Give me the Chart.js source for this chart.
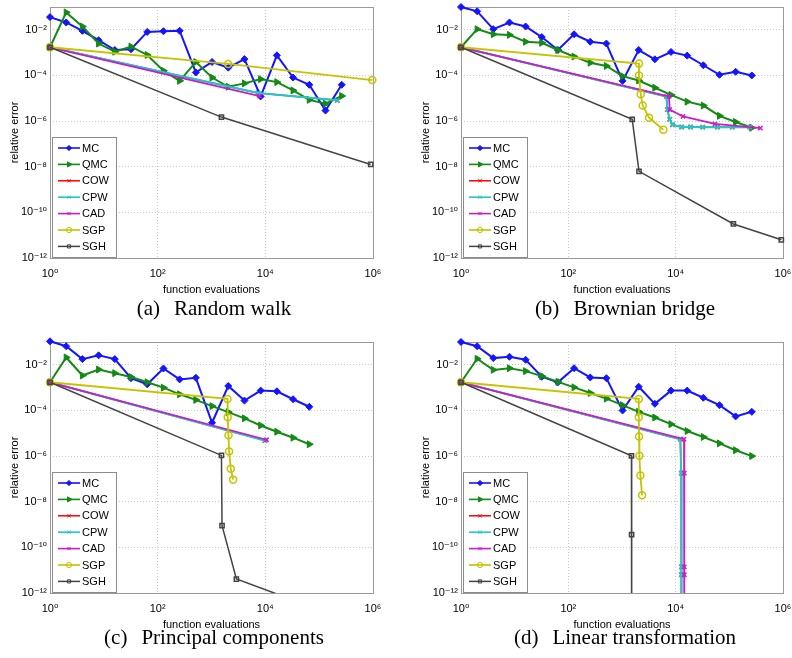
<!DOCTYPE html>
<html>
<head>
<meta charset="utf-8">
<script src="https://cdn.jsdelivr.net/npm/chart.js@4.4.1/dist/chart.umd.min.js"></script>
<style>
  html, body { margin: 0; padding: 0; background: #fff; }
  body { width: 792px; height: 658px; position: relative; overflow: hidden; }
  canvas { position: absolute; }
  .cap { position: absolute; width: 320px; text-align: center; font-family: 'Liberation Serif', 'Times New Roman', serif; font-size: 21px; line-height: 24px; color: #000; white-space: nowrap; }
  .cap .t { margin-left: 14px; }
</style>
</head>
<body>
<canvas id="ca" width="396" height="297" style="left:0px;top:0px"></canvas>
<canvas id="cb" width="381" height="297" style="left:411px;top:0px"></canvas>
<canvas id="cc" width="396" height="297" style="left:0px;top:335px"></canvas>
<canvas id="cd" width="381" height="297" style="left:411px;top:335px"></canvas>
<div id="capa" class="cap" style="left:54px;top:296px"></div>
<div id="capb" class="cap" style="left:465px;top:296px"></div>
<div id="capc" class="cap" style="left:54px;top:625px"></div>
<div id="capd" class="cap" style="left:465px;top:625px"></div>
<script>
// ---------- shared categories / ticks ----------
const seriesNames = ['MC', 'QMC', 'COW', 'CPW', 'CAD', 'SGP', 'SGH'];
const evals = [1, 2, 4, 8, 16, 32, 64, 128, 256, 512, 1024, 2048, 4096, 8192, 16384, 32768, 65536, 131072, 262144];
const xTicks = [1, 1e2, 1e4, 1e6];
const xTickLabels = ['10\u2070', '10\u00B2', '10\u2074', '10\u2076'];
const yTicks = [1e-12, 1e-10, 1e-8, 1e-6, 1e-4, 1e-2];
const yTickLabels = ['10\u207B\u00B9\u00B2', '10\u207B\u00B9\u2070', '10\u207B\u2078', '10\u207B\u2076', '10\u207B\u2074', '10\u207B\u00B2'];
const xTitle = 'function evaluations';
const yTitle = 'relative error';
const captionTags = ['(a)', '(b)', '(c)', '(d)'];
const captionTitles = ['Random walk', 'Brownian bridge', 'Principal components', 'Linear transformation'];

// ---------- (a) Random walk ----------
const mcA  = [0.036, 0.021, 0.009, 0.0035, 0.0013, 0.0014, 0.0081, 0.0087, 0.0091, 1.35e-4, 3.9e-4, 2.2e-4, 5.2e-4, 1.2e-5, 7.6e-4, 8.1e-5, 3.9e-5, 2.9e-6, 3.9e-5];
const qmcA = [1.72e-3, 0.058, 0.014, 2.5e-3, 1.1e-3, 1.84e-3, 7.9e-4, 1.6e-4, 5.8e-5, 3.9e-4, 8.1e-5, 3.2e-5, 4.5e-5, 6.9e-5, 5.1e-5, 2.2e-5, 8.5e-6, 5.8e-6, 1.26e-5];
const cowAx = [1, 7330, 217000],  cowAy = [1.72e-3, 1.7e-5, 8.1e-6];
const cpwAx = [1, 7330, 217000],  cpwAy = [1.72e-3, 1.7e-5, 8.1e-6];
const cadAx = [1, 7870],          cadAy = [1.72e-3, 1.23e-5];
const sgpAx = [1, 2040, 970000],  sgpAy = [1.72e-3, 3.2e-4, 6.3e-5];
const sghAx = [1, 1530, 906000],  sghAy = [1.72e-3, 1.5e-6, 1.26e-8];

// ---------- (b) Brownian bridge ----------
const mcB  = [0.1, 0.065, 0.0107, 0.021, 0.014, 0.0048, 0.0013, 0.0064, 0.0030, 0.0025, 5.8e-5, 0.0013, 5.1e-4, 0.00107, 7.4e-4, 2.8e-4, 1.07e-4, 1.45e-4, 1.0e-4];
const qmcB = [1.72e-3, 0.0107, 0.0064, 0.006, 0.003, 0.0027, 0.0013, 6.7e-4, 3.6e-4, 2.6e-4, 9.3e-5, 6.0e-5, 2.9e-5, 1.4e-5, 7.1e-6, 4.8e-6, 1.7e-6, 9.1e-7, 5.1e-7];
const cowBx = [1, 6700, 7000, 7750, 8700, 12900, 19000, 32000, 60000, 114000, 240000];
const cowBy = [1.72e-3, 1.2e-5, 3.2e-6, 1.2e-6, 6.9e-7, 5.5e-7, 5.5e-7, 5.4e-7, 5.4e-7, 5.4e-7, 5.4e-7];
const cpwBx = [1, 6700, 7000, 7750, 8700, 12900, 19000, 32000, 60000, 114000, 240000];
const cpwBy = [1.72e-3, 1.2e-5, 3.2e-6, 1.2e-6, 6.9e-7, 5.5e-7, 5.5e-7, 5.4e-7, 5.4e-7, 5.4e-7, 5.4e-7];
const cadBx = [1, 7500, 7750, 13700, 54000, 380000];
const cadBy = [1.72e-3, 1.2e-5, 3.2e-6, 1.6e-6, 7.6e-7, 4.9e-7];
const sgpBx = [1, 2070, 2070, 2230, 2430, 3190, 5900];
const sgpBy = [1.72e-3, 3.3e-4, 1.0e-4, 1.5e-5, 4.8e-6, 1.4e-6, 4.2e-7];
const sghBx = [1, 1550, 2075, 119000, 930000];
const sghBy = [1.72e-3, 1.2e-6, 6.3e-9, 3.1e-11, 6.3e-12];

// ---------- (c) Principal components ----------
const mcC  = [0.107, 0.065, 0.0178, 0.026, 0.0178, 0.0026, 0.0014, 0.0069, 0.0023, 0.0027, 2.9e-5, 0.00118, 2.7e-4, 7.4e-4, 6.9e-4, 3.1e-4, 1.45e-4];
const qmcC = [1.72e-3, 0.021, 0.0034, 0.0062, 0.0043, 0.0029, 0.00172, 1.0e-3, 5.1e-4, 2.9e-4, 1.55e-4, 8.5e-5, 4.5e-5, 2.2e-5, 1.17e-5, 6.4e-6, 3.3e-6];
const cowCx = [1, 9800],   cowCy = [1.72e-3, 4.8e-6];
const cpwCx = [1, 9800],   cpwCy = [1.72e-3, 4.8e-6];
const cadCx = [1, 10500],  cadCy = [1.72e-3, 5.2e-6];
const sgpCx = [1, 1980, 2000, 2070, 2120, 2280, 2520];
const sgpCy = [1.72e-3, 3.2e-4, 5.1e-5, 8.1e-6, 1.6e-6, 2.8e-7, 9.3e-8];
const sghCx = [1, 1530, 1570, 2900, 120000];
const sghCy = [1.72e-3, 1.07e-6, 8.9e-10, 4.1e-12, 1.6e-13];

// ---------- (d) Linear transformation ----------
const mcD  = [0.1, 0.065, 0.0197, 0.0225, 0.0166, 0.003, 0.00172, 0.0071, 0.0028, 0.0026, 1.0e-4, 0.0011, 1.95e-4, 7.4e-4, 7.4e-4, 3.6e-4, 1.7e-4, 5.5e-5, 8.7e-5];
const qmcD = [1.72e-3, 0.0184, 0.006, 0.0071, 0.0053, 0.0032, 0.00178, 1.03e-3, 5.8e-4, 3.3e-4, 1.7e-4, 8.7e-5, 4.9e-5, 2.5e-5, 1.26e-5, 6.9e-6, 3.6e-6, 1.8e-6, 1.0e-6];
const cowDx = [1, 12200, 12700, 12800, 12800, 12900];
const cowDy = [1.72e-3, 5.5e-6, 1.8e-7, 1.4e-11, 6.3e-12, 1e-16];
const cpwDx = [1, 12200, 12700, 12800, 12800, 12900];
const cpwDy = [1.72e-3, 5.5e-6, 1.8e-7, 1.4e-11, 6.3e-12, 1e-16];
const cadDx = [1, 14300, 14500, 14500, 14500, 14500];
const cadDy = [1.72e-3, 5.5e-6, 1.8e-7, 1.4e-11, 6.3e-12, 1e-16];
const sgpDx = [1, 2055, 2055, 2080, 2110, 2200, 2370];
const sgpDy = [1.72e-3, 3.2e-4, 5.1e-5, 7.2e-6, 1.03e-6, 1.4e-7, 1.9e-8];
const sghDx = [1, 1500, 1510, 1520];
const sghDy = [1.72e-3, 1.03e-6, 3.6e-10, 1e-16];

// ---------- styles ----------
const styles = {
  MC:  { color: '#1414ff', pointStyle: 'rectRot',  radius: 3.5, rotation: 0,  width: 2,   fill: true,  pbw: 1 },
  QMC: { color: '#148a14', pointStyle: 'triangle', radius: 4,   rotation: 90, width: 2,   fill: true,  pbw: 1 },
  COW: { color: '#ff0000', pointStyle: 'crossRot', radius: 3,   rotation: 0,  width: 1.5, fill: false, pbw: 1.5 },
  CPW: { color: '#20c8c8', pointStyle: 'crossRot', radius: 3,   rotation: 0,  width: 2,   fill: false, pbw: 1.5 },
  CAD: { color: '#c81ec8', pointStyle: 'crossRot', radius: 3,   rotation: 0,  width: 1.8, fill: false, pbw: 1.5 },
  SGP: { color: '#c4c400', pointStyle: 'circle',   radius: 3.5, rotation: 0,  width: 1.8, fill: false, pbw: 1.5 },
  SGH: { color: '#444444', pointStyle: 'rect',     radius: 3,   rotation: 0,  width: 1.5, fill: false, pbw: 1.5 }
};
const FONT = "'Liberation Sans', 'DejaVu Sans', Arial, sans-serif";
Chart.defaults.font.family = FONT;
Chart.defaults.font.size = 11;
Chart.defaults.color = '#000';

const panels = [
  { id: 'ca', padRight: 23,
    x: { MC: evals, QMC: evals, COW: cowAx, CPW: cpwAx, CAD: cadAx, SGP: sgpAx, SGH: sghAx },
    y: { MC: mcA,   QMC: qmcA,  COW: cowAy, CPW: cpwAy, CAD: cadAy, SGP: sgpAy, SGH: sghAy } },
  { id: 'cb', padRight: 9,
    x: { MC: evals, QMC: evals, COW: cowBx, CPW: cpwBx, CAD: cadBx, SGP: sgpBx, SGH: sghBx },
    y: { MC: mcB,   QMC: qmcB,  COW: cowBy, CPW: cpwBy, CAD: cadBy, SGP: sgpBy, SGH: sghBy } },
  { id: 'cc', padRight: 23,
    x: { MC: evals, QMC: evals, COW: cowCx, CPW: cpwCx, CAD: cadCx, SGP: sgpCx, SGH: sghCx },
    y: { MC: mcC,   QMC: qmcC,  COW: cowCy, CPW: cpwCy, CAD: cadCy, SGP: sgpCy, SGH: sghCy } },
  { id: 'cd', padRight: 9,
    x: { MC: evals, QMC: evals, COW: cowDx, CPW: cpwDx, CAD: cadDx, SGP: sgpDx, SGH: sghDx },
    y: { MC: mcD,   QMC: qmcD,  COW: cowDy, CPW: cpwDy, CAD: cadDy, SGP: sgpDy, SGH: sghDy } }
];

function makeDatasets(p) {
  return seriesNames.map((name, i) => {
    const st = styles[name];
    const xs = p.x[name], ys = p.y[name];
    return {
      label: name,
      data: ys.map((y, k) => ({ x: xs[k], y: y })),
      showLine: true,
      borderColor: st.color,
      backgroundColor: st.color,
      borderWidth: st.width,
      pointStyle: st.pointStyle,
      pointRadius: st.radius,
      pointHoverRadius: st.radius,
      pointRotation: st.rotation,
      pointBackgroundColor: st.fill ? st.color : 'rgba(0,0,0,0)',
      pointBorderColor: st.color,
      pointBorderWidth: st.pbw,
      tension: 0,
      order: seriesNames.length - 1 - i,
      clip: { left: 6, top: 6, right: 6, bottom: 0 }
    };
  });
}

const boxPlugin = {
  id: 'axesBox',
  beforeDatasetsDraw(chart) {
    const a = chart.chartArea, ctx = chart.ctx;
    ctx.save();
    ctx.strokeStyle = '#9a9a9a';
    ctx.lineWidth = 1;
    ctx.strokeRect(Math.round(a.left) + 0.5, Math.round(a.top) + 0.5, Math.round(a.right - a.left), Math.round(a.bottom - a.top));
    ctx.restore();
  }
};

const legendPlugin = {
  id: 'boxLegend',
  afterDraw(chart) {
    const ctx = chart.ctx, a = chart.chartArea;
    const w = 64, h = 120;
    const x0 = Math.round(a.left) + 2, y0 = Math.round(a.bottom) - 1 - h;
    ctx.save();
    ctx.fillStyle = '#fff';
    ctx.fillRect(x0, y0, w, h);
    ctx.strokeStyle = '#8c8c8c';
    ctx.lineWidth = 1;
    ctx.strokeRect(x0 + 0.5, y0 + 0.5, w, h);
    chart.data.datasets.forEach((ds, i) => {
      const cy = y0 + 11 + i * 16.4;
      ctx.strokeStyle = ds.borderColor;
      ctx.lineWidth = Math.min(ds.borderWidth, 1.6);
      ctx.beginPath(); ctx.moveTo(x0 + 6, cy); ctx.lineTo(x0 + 28, cy); ctx.stroke();
      ctx.fillStyle = ds.pointBackgroundColor;
      ctx.strokeStyle = ds.pointBorderColor;
      ctx.lineWidth = 1;
      if (Chart.helpers && Chart.helpers.drawPoint) {
        Chart.helpers.drawPoint(ctx, { pointStyle: ds.pointStyle, radius: ds.pointRadius * 0.75, rotation: ds.pointRotation || 0, borderWidth: 1 }, x0 + 17, cy);
      }
      ctx.fillStyle = '#000';
      ctx.font = '11px ' + FONT;
      ctx.textAlign = 'left';
      ctx.textBaseline = 'middle';
      ctx.fillText(ds.label, x0 + 30, cy + 0.5);
    });
    ctx.restore();
  }
};

panels.forEach((p) => {
  const canvas = document.getElementById(p.id);
  new Chart(canvas.getContext('2d'), {
    type: 'scatter',
    data: { datasets: makeDatasets(p) },
    options: {
      responsive: false,
      animation: false,
      events: [],
      layout: { padding: { left: 0, top: 7, right: p.padRight, bottom: 0 } },
      plugins: { legend: { display: false }, tooltip: { enabled: false } },
      scales: {
        x: {
          type: 'logarithmic', position: 'bottom', min: 1, max: 1e6,
          afterBuildTicks: (s) => { s.ticks = xTicks.map(v => ({ value: v })); },
          afterFit: (s) => { s.height = 39; s.paddingLeft = 0; s.paddingRight = 0; },
          ticks: { callback: (v, i) => xTickLabels[i], autoSkip: false, maxRotation: 0, minRotation: 0, padding: 9, color: '#000', font: { size: 11 } },
          grid: { color: '#c8c8c8', lineWidth: 1, drawTicks: false },
          border: { display: false, dash: [1, 2] },
          title: { display: true, text: xTitle, color: '#000', font: { size: 11 }, padding: { top: 0, bottom: 0 } }
        },
        y: {
          type: 'logarithmic', position: 'left', min: 1e-12, max: 1e-1,
          afterBuildTicks: (s) => { s.ticks = yTicks.map(v => ({ value: v })); },
          afterFit: (s) => { s.width = 50; s.paddingTop = 0; s.paddingBottom = 0; },
          ticks: { callback: (v, i) => yTickLabels[i], autoSkip: false, padding: 3, color: '#000', font: { size: 11 } },
          grid: { color: '#c8c8c8', lineWidth: 1, drawTicks: false },
          border: { display: false, dash: [1, 2] },
          title: { display: true, text: yTitle, color: '#000', font: { size: 11 }, padding: { top: 8.4, bottom: 0 } }
        }
      }
    },
    plugins: [boxPlugin, legendPlugin]
  });
});

['capa', 'capb', 'capc', 'capd'].forEach((id, i) => {
  const el = document.getElementById(id);
  const a = document.createElement('span');
  a.textContent = captionTags[i];
  const t = document.createElement('span');
  t.className = 't';
  t.textContent = captionTitles[i];
  el.appendChild(a);
  el.appendChild(t);
});
</script>
</body>
</html>
